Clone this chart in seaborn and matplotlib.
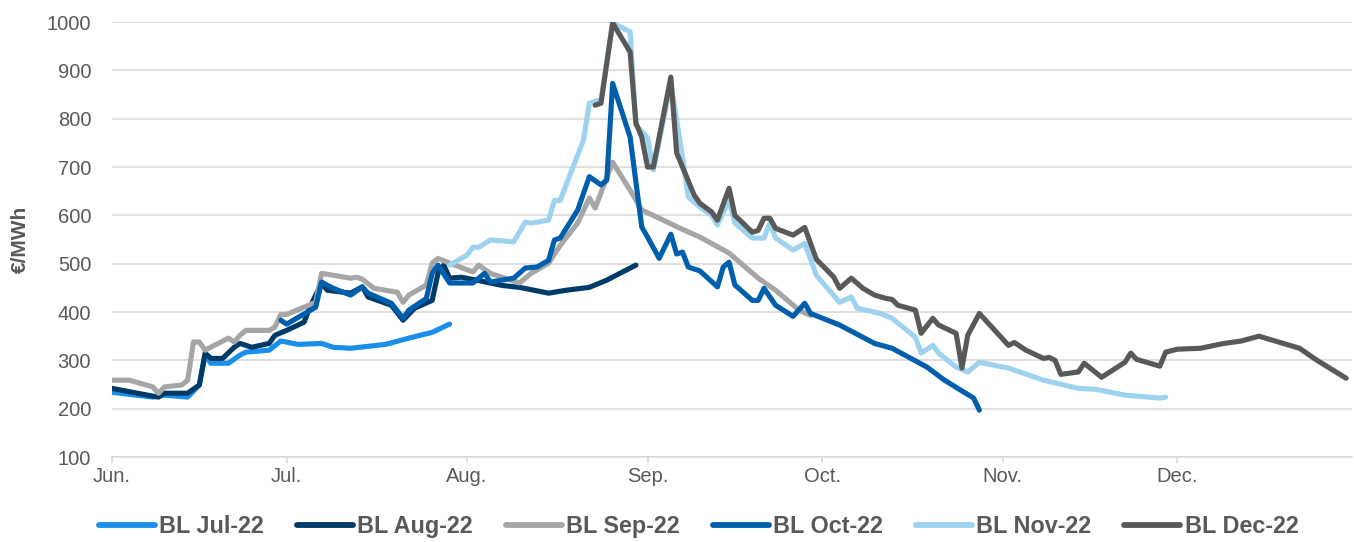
import numpy as np
import pandas as pd
import seaborn as sns
import matplotlib.pyplot as plt
from matplotlib.lines import Line2D

start = pd.Timestamp('2022-06-01')

# days counted from 1 Jun 2022, prices in EUR/MWh
jul_days = [0, 7, 9, 13, 15, 16, 17, 20, 22, 23, 27, 29, 32, 36, 38, 41, 44, 47, 51, 55, 58]
jul_vals = [234, 224, 228, 224, 249, 311, 294, 294, 311, 317, 321, 340, 333, 335, 327, 325, 329, 333, 346, 358, 375]

aug_days = [0, 7, 8, 9, 13, 15, 16, 17, 19, 21, 22, 24, 27, 28, 30, 33, 34, 36, 37, 41, 43, 44, 48, 50, 52,
            55, 56, 57, 58, 60, 63, 67, 70, 75, 78, 82, 85, 90]
aug_vals = [242, 226, 224, 232, 232, 249, 315, 304, 304, 327, 335, 327, 335, 352, 362, 379, 410, 460, 445, 439,
            452, 431, 414, 383, 408, 424, 480, 497, 470, 472, 465, 455, 451, 439, 445, 451, 466, 497]

sep_days = [0, 3, 7, 8, 9, 12, 13, 14, 15, 16, 20, 21, 22, 23, 27, 28, 29, 30, 35, 36, 41, 42, 43, 45, 49, 50,
            51, 54, 55, 56, 58, 62, 63, 65, 70, 72, 75, 77, 80, 82, 83, 86, 89, 91, 94, 98, 101, 106, 111, 114,
            118, 120]
sep_vals = [259, 259, 245, 232, 245, 249, 259, 338, 338, 321, 346, 338, 352, 362, 362, 369, 395, 395, 420, 480,
            470, 472, 468, 449, 441, 420, 435, 456, 501, 511, 501, 483, 497, 480, 460, 480, 501, 538, 584, 636,
            615, 710, 652, 611, 594, 571, 555, 522, 470, 445, 404, 393]

oct_days = [29, 30, 32, 35, 36, 38, 41, 43, 44, 48, 50, 51, 54, 55, 56, 58, 62, 64, 65, 69, 71, 73, 75, 76, 77,
            80, 82, 84, 85, 86, 89, 91, 92, 94, 96, 97, 98, 99, 101, 104, 105, 106, 107, 110, 111, 112, 114, 117,
            119, 120, 125, 131, 134, 140, 143, 148, 149]
oct_vals = [383, 375, 389, 410, 462, 449, 435, 452, 439, 418, 387, 404, 428, 480, 497, 460, 460, 480, 462, 470,
            491, 493, 507, 549, 553, 611, 680, 663, 673, 873, 762, 576, 555, 511, 561, 520, 524, 493, 485, 452,
            493, 503, 456, 424, 424, 449, 414, 391, 418, 397, 373, 335, 325, 286, 259, 222, 197]

nov_days = [58, 61, 62, 63, 65, 69, 71, 72, 75, 76, 77, 79, 81, 82, 84, 86, 89, 90, 92, 93, 96, 98, 99, 101,
            103, 104, 106, 107, 110, 112, 113, 114, 117, 119, 121, 125, 127, 128, 132, 134, 138, 139, 141, 142,
            145, 147, 149, 154, 160, 166, 169, 174, 180, 181]
nov_vals = [497, 518, 534, 534, 549, 545, 586, 584, 590, 631, 631, 694, 756, 832, 839, 998, 980, 787, 760, 694,
            873, 721, 638, 617, 600, 580, 631, 584, 553, 553, 584, 553, 528, 542, 476, 420, 431, 408, 397, 387,
            348, 315, 331, 315, 286, 276, 296, 284, 259, 242, 240, 228, 222, 224]

dec_days = [83, 84, 86, 89, 90, 91, 92, 93, 96, 97, 100, 101, 103, 104, 106, 107, 110, 111, 112, 113, 114, 117,
            119, 121, 124, 125, 127, 129, 131, 133, 134, 135, 138, 139, 141, 142, 145, 146, 147, 149, 154, 155,
            157, 160, 161, 162, 163, 166, 167, 170, 174, 175, 176, 180, 181, 183, 187, 191, 194, 197, 204, 207,
            212]
dec_vals = [828, 832, 998, 938, 791, 762, 700, 700, 886, 729, 642, 625, 607, 590, 656, 600, 565, 569, 594, 594,
            573, 559, 575, 509, 472, 449, 470, 449, 435, 428, 426, 414, 404, 356, 387, 373, 356, 284, 352, 397,
            331, 337, 321, 304, 306, 300, 271, 276, 294, 265, 296, 315, 302, 288, 317, 323, 325, 335, 340, 350,
            325, 300, 263]

names = ['BL Jul-22', 'BL Aug-22', 'BL Sep-22', 'BL Oct-22', 'BL Nov-22', 'BL Dec-22']
colors = ['#1A8FEA', '#003A66', '#A6A6A6', '#005FAD', '#9DD3EF', '#595959']
days = [jul_days, aug_days, sep_days, oct_days, nov_days, dec_days]
vals = [jul_vals, aug_vals, sep_vals, oct_vals, nov_vals, dec_vals]

month_labels = ['Jun.', 'Jul.', 'Aug.', 'Sep.', 'Oct.', 'Nov.', 'Dec.']
month_ticks = pd.date_range('2022-06-01', '2022-12-01', freq='MS')

df = pd.concat([
    pd.DataFrame({'date': start + pd.to_timedelta(d, unit='D'), 'price': v, 'contract': n})
    for n, d, v in zip(names, days, vals)
], ignore_index=True)

sns.set_theme(style='white')
plt.rcParams['font.family'] = ['Liberation Sans', 'DejaVu Sans']

txt = '#595959'
grid = '#D9D9D9'

fig = plt.figure(figsize=(13.54, 5.42), dpi=100)
ax = fig.add_axes([0.0827, 0.1568, 0.9158, 0.8026])

sns.lineplot(data=df, x='date', y='price', hue='contract', hue_order=names,
             palette=dict(zip(names, colors)), linewidth=3.7, legend=False, ax=ax,
             solid_capstyle='round', solid_joinstyle='round')

ax.set_ylim(100, 1000)
ax.set_yticks(np.arange(100, 1001, 100))
ax.set_xlim(start, pd.Timestamp('2022-12-31'))
ax.set_xticks(month_ticks)
ax.set_xticklabels(month_labels)

ax.grid(axis='y', color=grid, linewidth=1.2)
ax.set_axisbelow(True)
for s in ['top', 'right', 'left']:
    ax.spines[s].set_visible(False)
ax.spines['bottom'].set_color(grid)
ax.spines['bottom'].set_linewidth(1.2)

ax.tick_params(axis='y', length=0, pad=15, labelsize=14.5, labelcolor=txt)
ax.tick_params(axis='x', length=4.5, width=1.2, color=grid, direction='out', pad=3,
               labelsize=14.5, labelcolor=txt, bottom=True)

ax.set_xlabel('')
ax.set_ylabel('€/MWh', fontsize=15, fontweight='bold', color=txt)
ax.yaxis.set_label_coords(-0.066, 0.5)

handles = [Line2D([0], [0], color=c, linewidth=4.2, solid_capstyle='round') for c in colors]
leg = fig.legend(handles, names, loc='center', bbox_to_anchor=(0.516, 0.028), ncol=6,
                 frameon=False, handlelength=2.4, handletextpad=0.2, columnspacing=1.4,
                 prop={'size': 16.8, 'weight': 'bold'})
for t in leg.get_texts():
    t.set_color(txt)

fig.savefig('out.png', dpi=100)
